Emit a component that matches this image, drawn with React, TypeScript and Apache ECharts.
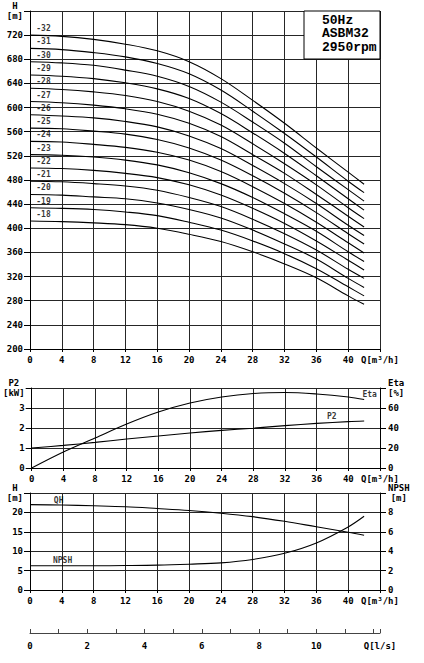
import React, { useEffect, useRef } from "react";
import * as echarts from "echarts";

// Flow points (m³/h) at which the curves are read
const Q = [0, 4, 8, 12, 16, 20, 24, 28, 32, 36, 40, 42];

// Head curves H [m] for each stage count
const H32 = [720, 718, 713, 705, 694, 676, 648, 612, 574, 533, 493, 473];
const H31 = [698, 696, 691, 684, 673, 656, 629, 594, 557, 518, 478, 459];
const H30 = [676, 674, 670, 662, 652, 635, 609, 576, 541, 502, 464, 445];
const H29 = [654, 652, 648, 641, 631, 615, 590, 558, 524, 487, 449, 430];
const H28 = [632, 630, 626, 620, 610, 594, 571, 540, 507, 472, 434, 416];
const H27 = [610, 608, 604, 598, 589, 574, 552, 522, 491, 456, 420, 402];
const H26 = [588, 586, 583, 577, 568, 553, 532, 504, 474, 441, 405, 388];
const H25 = [566, 565, 561, 556, 547, 533, 513, 487, 458, 426, 391, 374];
const H24 = [544, 543, 539, 534, 526, 513, 494, 469, 441, 410, 376, 359];
const H23 = [522, 521, 518, 513, 505, 492, 474, 451, 424, 395, 361, 345];
const H22 = [500, 499, 496, 491, 484, 472, 455, 433, 408, 379, 347, 331];
const H21 = [478, 477, 474, 470, 463, 451, 436, 415, 391, 364, 332, 317];
const H20 = [456, 455, 452, 449, 442, 431, 417, 397, 374, 349, 317, 302];
const H19 = [434, 433, 431, 427, 421, 410, 397, 379, 358, 333, 303, 288];
const H18 = [412, 411, 409, 406, 400, 390, 378, 361, 341, 318, 288, 274];

const STAGE_CURVES: [string, number[]][] = [
  ["-32", H32], ["-31", H31], ["-30", H30], ["-29", H29], ["-28", H28],
  ["-27", H27], ["-26", H26], ["-25", H25], ["-24", H24], ["-23", H23],
  ["-22", H22], ["-21", H21], ["-20", H20], ["-19", H19], ["-18", H18],
];
const STAGE_LABEL_Q = 1.7;

// Power / efficiency panel
const P2 = [1.0, 1.13, 1.28, 1.45, 1.6, 1.75, 1.88, 1.99, 2.12, 2.23, 2.32, 2.35];
const ETA = [0, 16, 30, 44, 56, 65, 71, 74.5, 75.5, 74, 71, 68.5];
// Single-stage head and NPSH panel
const QH = [22, 21.9, 21.7, 21.45, 21.0, 20.5, 19.8, 18.9, 17.7, 16.3, 14.9, 14.1];
const NPSH = [2.5, 2.5, 2.5, 2.52, 2.56, 2.66, 2.8, 3.15, 3.78, 4.85, 6.5, 7.6];

// Curve label anchors [Q, value]
const ETA_LABEL: [number, number] = [42.7, 68.5];
const P2_LABEL: [number, number] = [37.9, 2.28];
const QH_LABEL: [number, number] = [3.6, 21.9];
const NPSH_LABEL: [number, number] = [4.1, 2.5];

const TITLE_LINES = ["50Hz", "ASBM32", "2950rpm"];

const FONT = "DejaVu Sans Mono";
const INK = "#000";
const GRIDC = "#262626";

const pairs = (ys: number[]) => Q.map((q, i) => [q, ys[i]]);

const rich = {
  c: { align: "center", fontFamily: FONT, fontWeight: "bold", fontSize: 9, lineHeight: 10, color: INK },
};

function xAxisQ(gridIndex: number) {
  return {
    type: "value",
    gridIndex,
    min: 0,
    max: 44,
    interval: 4,
    axisLine: { show: true, onZero: false, lineStyle: { color: INK, width: 1 } },
    axisTick: { show: true, length: 3, lineStyle: { color: INK } },
    splitLine: { show: true, lineStyle: { color: GRIDC, width: 1 } },
    axisLabel: {
      show: true,
      showMinLabel: true,
      showMaxLabel: true,
      margin: 6,
      fontFamily: FONT,
      fontWeight: "bold",
      fontSize: 9,
      color: INK,
      formatter: (v: number) => (v >= 44 ? "Q[m³/h]" : String(v)),
    },
  };
}

function yAxis(gridIndex: number, min: number, max: number, interval: number, top: string, position: string, split: boolean) {
  return {
    type: "value",
    gridIndex,
    min,
    max,
    interval,
    position,
    axisLine: { show: true, onZero: false, lineStyle: { color: INK, width: 1 } },
    axisTick: { show: true, length: 6, lineStyle: { color: INK } },
    splitLine: { show: split, lineStyle: { color: GRIDC, width: 1 } },
    axisLabel: {
      show: true,
      showMinLabel: true,
      showMaxLabel: true,
      margin: position === "left" ? 7 : 8,
      fontFamily: FONT,
      fontWeight: "bold",
      fontSize: 9,
      color: INK,
      rich,
      formatter: (v: number) => (v >= max ? top : String(v)),
    },
  };
}

function lineSeries(xi: number, yi: number, ys: number[]) {
  return {
    type: "line",
    xAxisIndex: xi,
    yAxisIndex: yi,
    data: pairs(ys),
    smooth: 0.35,
    symbol: "none",
    silent: true,
    lineStyle: { color: INK, width: 1.1 },
    z: 5,
  };
}

function labelSeries(xi: number, yi: number, items: { name: string; value: number[] }[], distance: number) {
  return {
    type: "scatter",
    xAxisIndex: xi,
    yAxisIndex: yi,
    symbolSize: 0,
    silent: true,
    data: items,
    z: 6,
    label: {
      show: true,
      position: "top",
      distance,
      formatter: "{b}",
      fontFamily: FONT,
      fontWeight: "bold",
      fontSize: 8,
      color: INK,
    },
  };
}

export default function App() {
  const ref = useRef<HTMLDivElement>(null);

  useEffect(() => {
    if (!ref.current) return;
    const chart = echarts.init(ref.current, undefined, { renderer: "svg" });

    const series: any[] = [];
    STAGE_CURVES.forEach(([, ys]) => series.push(lineSeries(0, 0, ys)));
    series.push(
      labelSeries(
        0,
        0,
        STAGE_CURVES.map(([name, ys]) => ({ name, value: [STAGE_LABEL_Q, ys[0]] })),
        2.5
      )
    );
    series.push(lineSeries(1, 1, P2));
    series.push(lineSeries(1, 2, ETA));
    series.push(labelSeries(1, 2, [{ name: "Eta", value: ETA_LABEL }], 1.5));
    series.push(labelSeries(1, 1, [{ name: "P2", value: P2_LABEL }], 2));
    series.push(lineSeries(2, 3, QH));
    series.push(lineSeries(2, 4, NPSH));
    series.push(labelSeries(2, 3, [{ name: "QH", value: QH_LABEL }], 1));
    series.push(labelSeries(2, 4, [{ name: "NPSH", value: NPSH_LABEL }], 1.5));

    const option: any = {
      animation: false,
      backgroundColor: "#fff",
      grid: [
        { left: 30, top: 11, width: 350, height: 338, containLabel: false },
        { left: 30, top: 388, width: 350, height: 80, containLabel: false },
        { left: 30, top: 493, width: 350, height: 97, containLabel: false },
        { left: 30, top: 632, width: 350, height: 1, containLabel: false },
      ],
      xAxis: [
        xAxisQ(0),
        xAxisQ(1),
        xAxisQ(2),
        {
          type: "value",
          gridIndex: 3,
          min: 0,
          max: 44 / 3.6,
          interval: 1,
          position: "bottom",
          axisLine: { show: true, onZero: false, lineStyle: { color: "#444", width: 1 } },
          axisTick: { show: true, inside: true, length: 4, lineStyle: { color: "#444" } },
          splitLine: { show: false },
          axisLabel: {
            show: true,
            showMinLabel: true,
            showMaxLabel: true,
            margin: 8,
            fontFamily: FONT,
            fontWeight: "bold",
            fontSize: 9,
            color: INK,
            formatter: (v: number) => {
              if (v > 12.1) return "Q[l/s]";
              if (v > 11) return "";
              return Math.round(v) % 2 === 0 ? String(Math.round(v)) : "";
            },
          },
        },
      ],
      yAxis: [
        yAxis(0, 200, 760, 40, "{c|H}\n{c|[m]}", "left", true),
        yAxis(1, 0, 4, 1, "{c|P2}\n{c|[kW]}", "left", true),
        yAxis(1, 0, 80, 20, "{c|Eta}\n{c|[%]}", "right", false),
        yAxis(2, 0, 25, 5, "{c|H}\n{c|[m]}", "left", true),
        yAxis(2, 0, 10, 2, "{c|NPSH}\n{c|[m]}", "right", false),
        { type: "value", gridIndex: 3, show: false, min: 0, max: 1 },
      ],
      series,
      graphic: [
        {
          type: "rect",
          z: 100,
          shape: { x: 304, y: 11, width: 76, height: 48 },
          style: { fill: "#fff", stroke: INK, lineWidth: 1 },
        },
        ...TITLE_LINES.map((t, i) => ({
          type: "text",
          z: 101,
          x: 322,
          y: 20 + i * 13.8,
          style: {
            text: t,
            fill: INK,
            font: `bold 13px "Liberation Mono"`,
            textAlign: "left",
            textVerticalAlign: "middle",
            verticalAlign: "middle",
          },
        })),
      ],
    };

    chart.setOption(option);
    return () => chart.dispose();
  }, []);

  return (
    <div
      ref={ref}
      style={{ position: "absolute", left: 0, top: 0, width: 424, height: 663, background: "#fff" }}
    />
  );
}
